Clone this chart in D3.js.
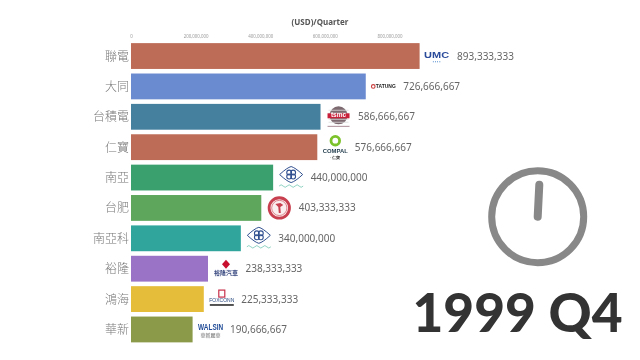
<!DOCTYPE html>
<html>
<head>
<meta charset="utf-8">
<script src="https://cdn.jsdelivr.net/npm/d3@7"></script>
<style>
  html, body { margin: 0; padding: 0; background: #fff; }
  svg { display: block; filter: blur(0.35px); }
</style>
</head>
<body>
<div id="chart"></div>
<script>
const companies = ['聯電', '大同', '台積電', '仁寶', '南亞', '台肥', '南亞科', '裕隆', '鴻海', '華新']
const revenues = [893333333, 726666667, 586666667, 576666667, 440000000, 403333333, 340000000, 238333333, 225333333, 190666667]
const barColors = ['#bd6c57', '#6b8bd0', '#45819f', '#bd6c57', '#3aa06e', '#5da65c', '#2fa59c', '#9a72c6', '#e6bd3a', '#8a9a48']
const logoKinds = ['umc', 'tatung', 'tsmc', 'compal', 'nanya', 'fertilizer', 'nanya', 'yulon', 'foxconn', 'walsin']
const tickValues = [0, 200000000, 400000000, 600000000, 800000000]
const axisTitle = '(USD)/Quarter'
const period = '1999 Q4'

const width = 640, height = 360
const cjk = '"Noto Sans CJK TC", "Noto Sans", sans-serif'

const svg = d3.select('#chart').append('svg')
    .attr('width', width)
    .attr('height', height)
    .style('background-color', 'white')

const x = d3.scaleLinear().domain([0, 893333333]).range([131, 419.6])
const y = d3.scaleBand().domain(companies).range([41, 344.5]).paddingInner(0.15).paddingOuter(0.07)

svg.append('text')
    .attr('x', 320).attr('y', 24.5)
    .attr('text-anchor', 'middle')
    .attr('font-family', '"Noto Sans", sans-serif')
    .attr('font-weight', 700).attr('font-size', 8)
    .attr('fill', '#555')
    .text(axisTitle)

// top axis, only the labels are visible
const axis = d3.axisTop(x).tickValues(tickValues).tickSize(0).tickFormat(d3.format(','))
const axisG = svg.append('g').attr('transform', 'translate(0,41.3)').call(axis)
axisG.select('.domain').remove()
axisG.selectAll('text')
    .attr('font-family', '"Noto Sans", sans-serif')
    .attr('font-size', 4.4)
    .attr('fill', '#999')

const rows = svg.selectAll('g.row')
    .data(companies.map((name, i) => ({ name, value: revenues[i], color: barColors[i], logo: logoKinds[i] })))
    .join('g')
    .attr('class', 'row')
    .attr('transform', d => `translate(0,${y(d.name)})`)

rows.append('rect')
    .attr('x', x(0))
    .attr('width', d => x(d.value) - x(0))
    .attr('height', y.bandwidth())
    .attr('fill', d => d.color)

rows.append('text')
    .attr('x', 129)
    .attr('y', y.bandwidth() / 2 + 4.5)
    .attr('text-anchor', 'end')
    .attr('font-family', cjk)
    .attr('font-weight', 300)
    .attr('font-size', 12)
    .attr('fill', '#777')
    .text(d => d.name)

rows.append('text')
    .attr('x', d => x(d.value) + 37.5)
    .attr('y', y.bandwidth() / 2 + 3.5)
    .attr('font-family', '"Noto Sans", sans-serif')
    .attr('font-size', 10)
    .attr('fill', '#666')
    .text(d => d3.format(',')(d.value))

// small stand-ins for the company logos, centred 18px right of the bar
const logoG = rows.append('g')
    .attr('transform', d => `translate(${x(d.value) + 18},${y.bandwidth() / 2})`)

const small = (g, txt, yy, size, color, weight = 700) => g.append('text')
    .attr('y', yy)
    .attr('text-anchor', 'middle')
    .attr('font-family', '"Liberation Sans", sans-serif')
    .attr('font-weight', weight)
    .attr('font-size', size)
    .attr('fill', color)
    .text(txt)

const nanyaMark = g => {
    g.append('path').attr('d', 'M-11.5,-3 Q-4,-10 0,-11 Q4,-10 11.5,-3 Q4,4 0,5 Q-4,4 -11.5,-3 Z')
        .attr('fill', '#fff').attr('stroke', '#2f4f8f').attr('stroke-width', 1)
    g.append('circle').attr('cx', -2).attr('cy', -5).attr('r', 2.4).attr('fill', 'none').attr('stroke', '#2f4f8f').attr('stroke-width', 1.1)
    g.append('circle').attr('cx', 2).attr('cy', -5).attr('r', 2.4).attr('fill', 'none').attr('stroke', '#2f4f8f').attr('stroke-width', 1.1)
    g.append('circle').attr('cx', -2).attr('cy', -1).attr('r', 2.4).attr('fill', 'none').attr('stroke', '#2f4f8f').attr('stroke-width', 1.1)
    g.append('circle').attr('cx', 2).attr('cy', -1).attr('r', 2.4).attr('fill', 'none').attr('stroke', '#2f4f8f').attr('stroke-width', 1.1)
    g.append('path').attr('d', 'M-12,8.5 q2,-2.5 4,0 t4,0 t4,0 t4,0 t4,0 t4,0').attr('fill', 'none').attr('stroke', '#5fbfa8').attr('stroke-width', 0.7)
}

logoG.each(function (d) {
    const g = d3.select(this)
    if (d.logo === 'umc') {
        small(g, 'UMC', 1.5, 9.5, '#2a4a9a', 700).attr('x', -1).attr('textLength', 25).attr('lengthAdjust', 'spacingAndGlyphs')
        small(g, '▪  ▪  ▪  ▪', 7, 3.5, '#3f7fc8').attr('x', -1)
    } else if (d.logo === 'tatung') {
        g.append('circle').attr('cx', -10.5).attr('r', 1.8).attr('fill', 'none').attr('stroke', '#c83a3a').attr('stroke-width', 1.1)
        small(g, 'TATUNG', 2, 5.5, '#222', 700).attr('x', 2).attr('textLength', 20).attr('lengthAdjust', 'spacingAndGlyphs')
    } else if (d.logo === 'tsmc') {
        g.append('circle').attr('cy', -1.5).attr('r', 9).attr('fill', '#7d6a70')
        ;[-7, -4, 2, 5].forEach(dy => g.append('rect').attr('x', -10).attr('y', dy).attr('width', 20).attr('height', 0.8).attr('fill', '#ddd'))
        g.append('rect').attr('x', -11).attr('y', -3.5).attr('width', 22).attr('height', 5).attr('fill', '#c8203a')
        small(g, 'tsmc', 0.5, 6.5, '#fff')
        g.append('rect').attr('x', -11).attr('y', 9).attr('width', 22).attr('height', 1.2).attr('fill', '#b9a0a8')
    } else if (d.logo === 'compal') {
        g.append('circle').attr('cy', -6.5).attr('r', 4.3).attr('fill', 'none').attr('stroke', '#7cc22a').attr('stroke-width', 2.8)
        small(g, 'COMPAL', 6, 6, '#1f3a4a', 700).attr('textLength', 25).attr('lengthAdjust', 'spacingAndGlyphs')
        small(g, '· 仁寶', 11.5, 3.5, '#333')
    } else if (d.logo === 'nanya') {
        nanyaMark(g)
    } else if (d.logo === 'fertilizer') {
        g.append('circle').attr('r', 10.2).attr('fill', '#fbeeee').attr('stroke', '#c8404f').attr('stroke-width', 2.8)
        g.append('circle').attr('r', 7.6).attr('fill', 'none').attr('stroke', '#c8404f').attr('stroke-width', 0.6)
        g.append('path').attr('d', 'M-4,-4 L1,-5 L4,-3 L1,-1 L1.5,5 L-0.5,5 L-1,-1 Z').attr('fill', '#c8404f')
    } else if (d.logo === 'yulon') {
        g.append('path').attr('d', 'M0,-9 L4,-4.5 L0,0 L-4,-4.5 Z').attr('fill', '#c8102e')
        small(g, '裕隆汽車', 6.5, 6, '#3a4a80').attr('font-family', cjk)
    } else if (d.logo === 'foxconn') {
        g.append('rect').attr('x', -3).attr('y', -9).attr('width', 6).attr('height', 7).attr('fill', '#fff').attr('stroke', '#c8304a').attr('stroke-width', 1.2)
        small(g, 'FOXCONN', 3, 5, '#2a4a80', 400).attr('textLength', 25).attr('lengthAdjust', 'spacingAndGlyphs')
        g.append('rect').attr('x', -12).attr('y', 5).attr('width', 24).attr('height', 1.8).attr('fill', '#444')
    } else if (d.logo === 'walsin') {
        small(g, 'WALSIN', 1, 9, '#1f4a96', 700).attr('textLength', 25).attr('lengthAdjust', 'spacingAndGlyphs')
        small(g, '華新麗華', 8, 5, '#666', 400).attr('font-family', cjk)
    }
})

// clock
const clock = svg.append('g').attr('transform', 'translate(537.7,216.7)')
clock.append('circle').attr('r', 46).attr('fill', 'none').attr('stroke', '#888').attr('stroke-width', 7)
clock.append('line')
    .attr('x1', 0).attr('y1', 0)
    .attr('x2', 1.6).attr('y2', -32)
    .attr('stroke', '#888').attr('stroke-width', 8).attr('stroke-linecap', 'round')

svg.append('text')
    .attr('x', 622.5).attr('y', 331.7)
    .attr('text-anchor', 'end')
    .attr('font-family', 'Lato, "Noto Sans", sans-serif')
    .attr('font-weight', 900)
    .attr('font-size', 53.2)
    .attr('fill', '#333')
    .text(period)
</script>
</body>
</html>
